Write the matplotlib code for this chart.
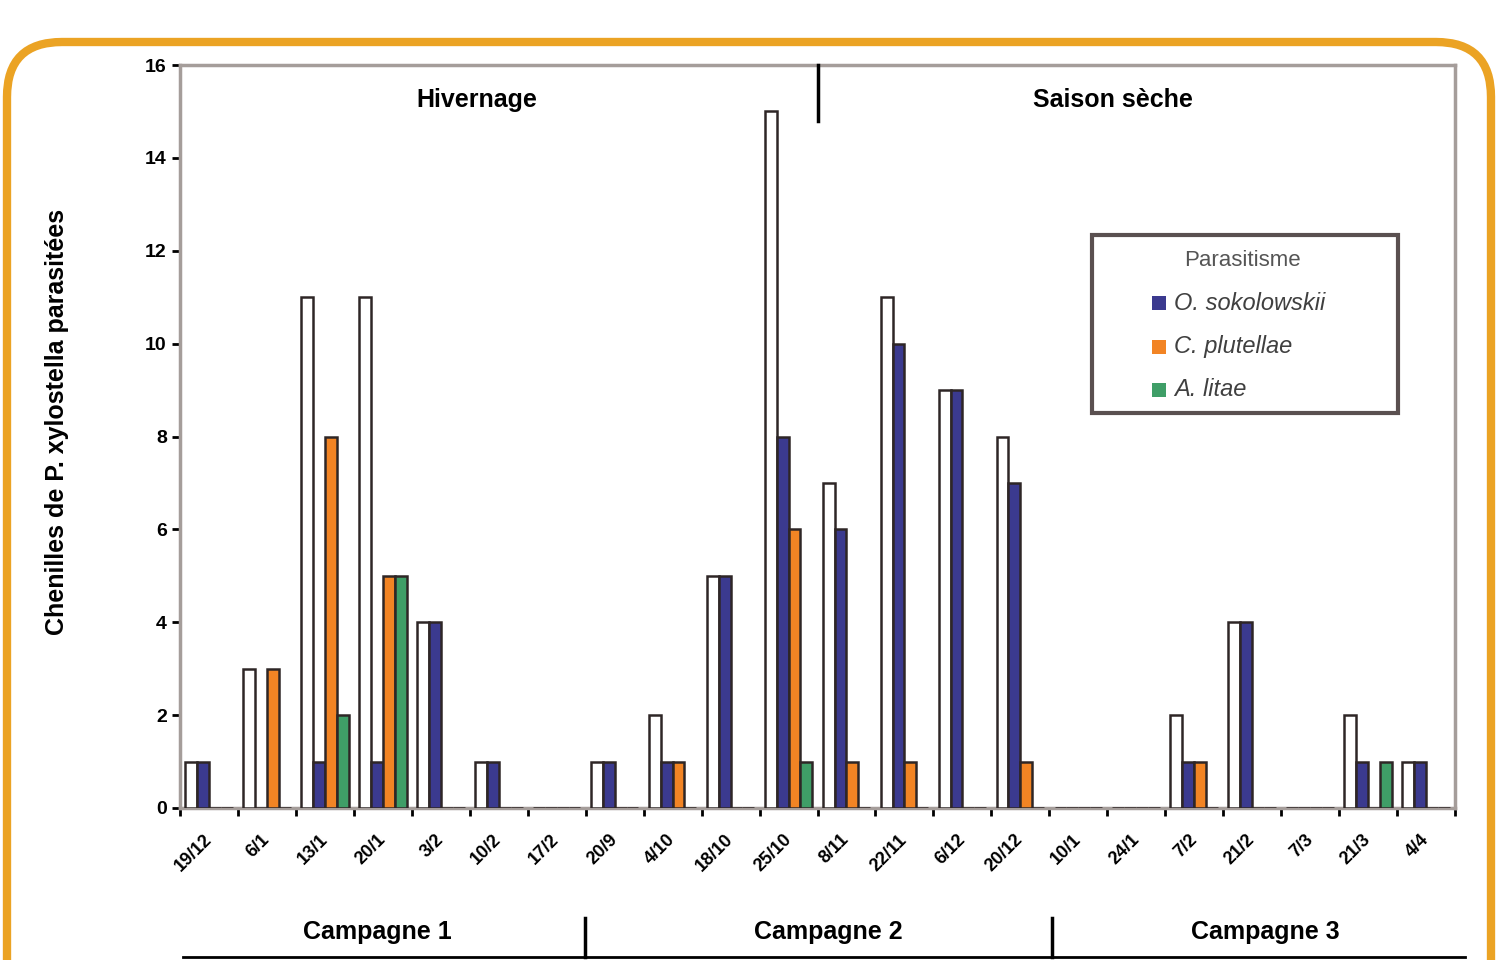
import matplotlib
matplotlib.use("Agg")
import matplotlib.pyplot as plt
import numpy as np
from matplotlib.patches import FancyBboxPatch, Rectangle
from matplotlib.lines import Line2D
from matplotlib.transforms import IdentityTransform

plt.rcParams['font.family'] = ['Liberation Sans', 'DejaVu Sans']

dates = ["19/12", "6/1", "13/1", "20/1", "3/2", "10/2", "17/2",
         "20/9", "4/10", "18/10", "25/10", "8/11", "22/11", "6/12",
         "20/12", "10/1", "24/1", "7/2", "21/2", "7/3", "21/3", "4/4"]
total =   [1, 3, 11, 11, 4, 1, 0, 1, 2, 5, 15, 7, 11, 9, 8, 0, 0, 2, 4, 0, 2, 1]
o_soko =  [1, 0, 1, 1, 4, 1, 0, 1, 1, 5, 8, 6, 10, 9, 7, 0, 0, 1, 4, 0, 1, 1]
c_plut =  [0, 3, 8, 5, 0, 0, 0, 0, 1, 0, 6, 1, 1, 0, 1, 0, 0, 1, 0, 0, 0, 0]
a_litae = [0, 0, 2, 5, 0, 0, 0, 0, 0, 0, 1, 0, 0, 0, 0, 0, 0, 0, 0, 0, 1, 0]
series_names = ["O. sokolowskii", "C. plutellae", "A. litae"]
season_labels = ["Hivernage", "Saison sèche"]
campaign_labels = ["Campagne 1", "Campagne 2", "Campagne 3"]
ylabel = "Chenilles de P. xylostella parasitées"
legend_title = "Parasitisme"

W, H = 1496, 960
fig = plt.figure(figsize=(W / 100, H / 100), dpi=100)
ax = fig.add_axes([180 / W, 1 - 808 / H, (1455 - 180) / W, (808 - 65) / H])

n = len(dates)
x = np.arange(n)
w = 0.205
cols = ["white", "#3B3A8F", "#F28424", "#3F9E67"]
edge = "#2e2626"
data = [total, o_soko, c_plut, a_litae]
for k, (vals, c) in enumerate(zip(data, cols)):
    ax.bar(x + (k - 1.5) * w, vals, width=w, color=c, edgecolor=edge,
           linewidth=1.8, zorder=3)

ax.set_xlim(-0.5, n - 0.5)
ax.set_ylim(0, 16)
ax.set_yticks(np.arange(0, 17, 2))
ax.set_yticklabels([str(v) for v in range(0, 17, 2)], fontsize=14,
                   fontweight='bold')
ax.set_xticks(np.arange(n + 1) - 0.5)
ax.set_xticklabels([])
for i, d in enumerate(dates):
    ax.text(i - 0.1, -0.5, d, rotation=45, ha='right', va='top',
            fontsize=13, fontweight='bold', rotation_mode='anchor',
            transform=ax.transData)
ax.tick_params(axis='both', length=6, width=2, color='black', direction='out')
for s in ax.spines.values():
    s.set_color('#a59d9a')
    s.set_linewidth(2.5)

ax.set_ylabel(ylabel, fontsize=18, fontweight='bold')
ax.yaxis.set_label_coords(-0.087, 0.52)

# season separator & labels
ax.plot([10.5, 10.5], [14.8, 16], color='black', lw=2.5, clip_on=False, zorder=4)
ax.text(4.62, 15.25, season_labels[0], ha='center', va='center',
        fontsize=18, fontweight='bold')
ax.text(15.6, 15.25, season_labels[1], ha='center', va='center',
        fontsize=18, fontweight='bold')

# legend drawn in figure pixel coordinates
def fx(px):
    return px / W

def fy(py):
    return 1 - py / H

fig.add_artist(Rectangle((fx(1092), fy(413)), fx(1398) - fx(1092), fy(235) - fy(413),
                         transform=fig.transFigure, facecolor='white',
                         edgecolor='#5a5050', linewidth=3, zorder=10))
fig.text(fx(1242), fy(261), legend_title, ha='center', va='center',
         fontsize=16, color='#555555', zorder=11)
for name, c, yy in zip(series_names, cols[1:], (303, 347, 390)):
    fig.add_artist(Rectangle((fx(1152), fy(yy + 7)), fx(1166) - fx(1152), fy(yy - 7) - fy(yy + 7),
                             transform=fig.transFigure, facecolor=c,
                             edgecolor='none', zorder=11))
    fig.text(fx(1174), fy(yy), name, ha='left', va='center', fontsize=17,
             style='italic', color='#404040', zorder=11)

# bottom campaign annotations
fig.add_artist(Line2D([fx(183), fx(1465)], [fy(957), fy(957)], color='black', lw=2))
for xs in (585, 1052):
    fig.add_artist(Line2D([fx(xs), fx(xs)], [fy(918), fy(957)], color='black', lw=2.5))
for lab, xc in zip(campaign_labels, (377, 828, 1265)):
    fig.text(fx(xc), fy(932), lab, ha='center', va='center', fontsize=18,
             fontweight='bold')

# orange rounded frame (pixel coordinates)
frame = FancyBboxPatch((7, -60), 1484, 960 - 42 + 60,
                       boxstyle="round,pad=0,rounding_size=55",
                       transform=IdentityTransform(), fill=False,
                       edgecolor='#EBA324', linewidth=6)
fig.add_artist(frame)

fig.savefig("out.png", dpi=100)
